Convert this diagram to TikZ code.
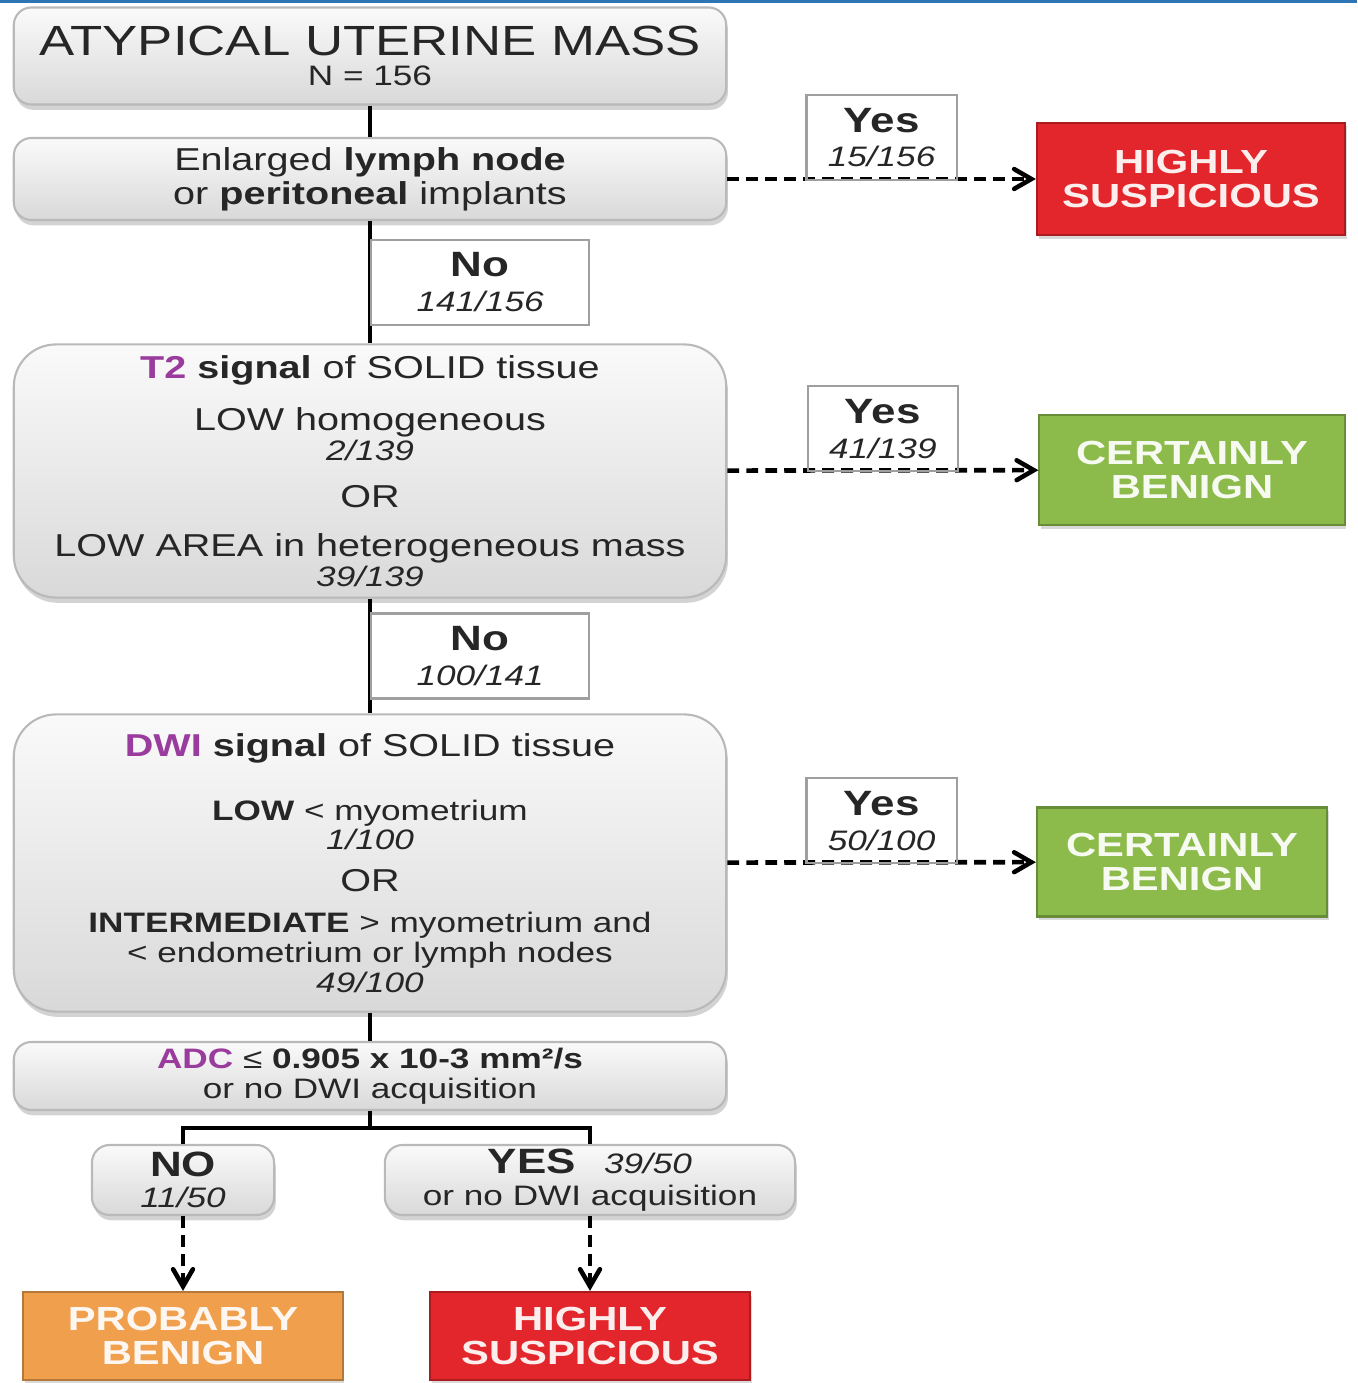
\documentclass[tikz,border=0pt]{standalone}
\usepackage{fontspec}
\setmainfont[FakeStretch=1.25]{Liberation Sans}
\usetikzlibrary{arrows,shadows}

\definecolor{topblue}{HTML}{2E75B6}
\definecolor{hsred}{HTML}{E3262B}
\definecolor{cbgreen}{HTML}{8CBB4C}
\definecolor{pborange}{HTML}{F0A04C}
\definecolor{keypurple}{HTML}{9A3C9E}

\newcommand{\fracnum}[1]{{\fontsize{8}{8.5}\selectfont\itshape #1}}
\newcommand{\keyword}[1]{\textcolor{keypurple}{\textbf{#1}}}

\begin{document}
\begin{tikzpicture}[x=0.01cm,y=-0.01cm,>=angle 60,line width=1.2pt,
  test/.style={draw=gray!55,line width=0.6pt,rounded corners=5pt,top color=gray!4,bottom color=gray!30,
    drop shadow={opacity=0.35,shadow xshift=0.5pt,shadow yshift=-1.5pt},align=center,inner sep=0pt,
    text=black!85,font=\fontsize{9}{8.5}\selectfont},
  bigtest/.style={test,rounded corners=12pt},
  outcome/.style={draw=#1!75!black,line width=0.6pt,fill=#1,text=white!92!#1,align=center,inner sep=0pt,
    font=\bfseries\fontsize{9.5}{9.6}\selectfont,drop shadow={opacity=0.3,shadow xshift=0.5pt,shadow yshift=-1pt}},
  lbl/.style={draw=gray!75,solid,line width=0.6pt,align=center,inner sep=0pt,text=black!85,
    minimum height=0.85cm,font=\fontsize{10}{9.8}\selectfont},
  yesarrow/.style={->,dash pattern=on 3.4pt off 2pt,line width=1.3pt}]

  \useasboundingbox (0,0) rectangle (1357,1383);
  \fill[topblue] (0,0) rectangle (1357,3);

  % decision chain
  \node[test,minimum width=7.12cm,minimum height=0.97cm] (mass) at (370,56)
    {{\fontsize{12}{8.8}\selectfont ATYPICAL UTERINE MASS}\\{\fontsize{8}{8.8}\selectfont N = 156}};
  \node[test,minimum width=7.12cm,minimum height=0.82cm,font=\fontsize{9}{9.6}\selectfont] (nodes) at (370,179)
    {Enlarged \textbf{lymph node}\\or \textbf{peritoneal} implants};
  \node[bigtest,minimum width=7.12cm,minimum height=2.53cm] (t2) at (370,471)
    {\keyword{T2} \textbf{signal} of SOLID tissue\\[6.5pt]
     LOW homogeneous\\\fracnum{2/139}\\[4.8pt]
     OR\\[5.4pt]
     LOW AREA in heterogeneous mass\\\fracnum{39/139}};
  \node[bigtest,minimum width=7.12cm,minimum height=2.97cm] (dwi) at (370,863)
    {\keyword{DWI} \textbf{signal} of SOLID tissue\\[9.6pt]
     {\fontsize{8}{8.5}\selectfont\textbf{LOW} < myometrium}\\\fracnum{1/100}\\[3.4pt]
     OR\\[3.1pt]
     {\fontsize{8}{8.5}\selectfont\textbf{INTERMEDIATE} > myometrium and}\\
     {\fontsize{8}{8.5}\selectfont < endometrium or lymph nodes}\\\fracnum{49/100}};
  \node[test,minimum width=7.12cm,minimum height=0.68cm,font=\fontsize{8}{8.5}\selectfont] (adc) at (370,1076)
    {\keyword{ADC} ≤ \textbf{0.905 x 10-3 mm²/s}\\or no DWI acquisition};
  \node[test,minimum width=1.82cm,minimum height=0.70cm,font=\fontsize{9}{9}\selectfont] (no) at (183,1180)
    {{\fontsize{10}{9}\selectfont\textbf{NO}}\\\fracnum{11/50}};
  \node[test,minimum width=4.10cm,minimum height=0.70cm,font=\fontsize{8}{9}\selectfont] (yes) at (590,1180)
    {{\fontsize{10}{9}\selectfont\textbf{YES}}\quad\fracnum{39/50}\\or no DWI acquisition};

  % outcomes
  \node[outcome=hsred,minimum width=3.08cm,minimum height=1.12cm] (hs1) at (1191,179) {HIGHLY\\SUSPICIOUS};
  \node[outcome=cbgreen,minimum width=3.05cm,minimum height=1.10cm] (cb1) at (1192,470) {CERTAINLY\\BENIGN};
  \node[outcome=cbgreen,minimum width=2.90cm,minimum height=1.09cm] (cb2) at (1182,862) {CERTAINLY\\BENIGN};
  \node[outcome=pborange,minimum width=3.19cm,minimum height=0.88cm] (pb) at (183,1336) {PROBABLY\\BENIGN};
  \node[outcome=hsred,minimum width=3.20cm,minimum height=0.88cm] (hs2) at (590,1336) {HIGHLY\\SUSPICIOUS};

  \path (mass) edge (nodes)
        (nodes) edge node[lbl,anchor=west,minimum width=2.18cm] {\textbf{No}\\\fracnum{141/156}} (t2)
        (t2) edge node[lbl,anchor=west,minimum width=2.18cm] {\textbf{No}\\\fracnum{100/141}} (dwi)
        (dwi) edge (adc);

  \path (nodes) edge[yesarrow] node[lbl,anchor=south,minimum width=1.5cm,yshift=-0.6pt] {\textbf{Yes}\\\fracnum{15/156}} (hs1)
        (t2) edge[yesarrow] node[lbl,anchor=south,minimum width=1.5cm,yshift=-0.6pt] {\textbf{Yes}\\\fracnum{41/139}} (cb1)
        (dwi) edge[yesarrow] node[lbl,anchor=south,minimum width=1.5cm,yshift=-0.6pt] {\textbf{Yes}\\\fracnum{50/100}} (cb2);

  \draw (adc.south) -- ++(0,17) coordinate (fork) -| (no.north);
  \draw (fork) -| (yes.north);
  \path (no) edge[yesarrow] (pb)
        (yes) edge[yesarrow] (hs2);
\end{tikzpicture}
\end{document}
